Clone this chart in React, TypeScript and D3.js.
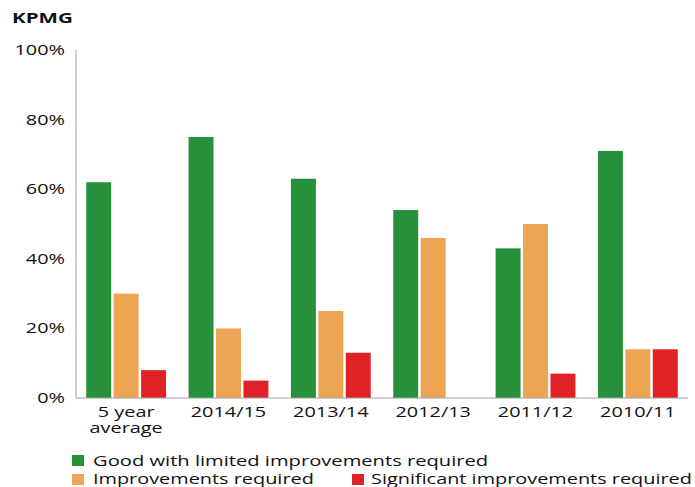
import React from "react";
import * as d3 from "d3";

const categories = ["5 year\naverage", "2014/15", "2013/14", "2012/13", "2011/12", "2010/11"];
const seriesNames = [
  "Good with limited improvements required",
  "Improvements required",
  "Significant improvements required",
];
const good = [62, 75, 63, 54, 43, 71];
const improvements = [30, 20, 25, 46, 50, 14];
const significant = [8, 5, 13, 0, 7, 14];
const yTicks = [0, 20, 40, 60, 80, 100];
const colors = ["#27903b", "#eca653", "#e02227"];

const W = 695;
const H = 487;
const SX = 1.42;
const FONT = "'Open Sans', sans-serif";

function T({ x, y, children, anchor = "start", size = 14, weight = 400, dy = 0 }: any) {
  return (
    <text
      transform={`translate(${x},${y}) scale(${SX},1)`}
      textAnchor={anchor}
      fontSize={size}
      fontWeight={weight}
      fontFamily={FONT}
      fill="#111"
      dy={dy}
    >
      {children}
    </text>
  );
}

export default function App() {
  const x0 = d3.scaleBand<string>().domain(categories).range([76, 688]).paddingInner(0.22).paddingOuter(0.1);
  const x1 = d3.scaleBand<number>().domain([0, 1, 2]).range([0, x0.bandwidth()]).paddingInner(0.09);
  const y = d3.scaleLinear().domain([0, 100]).range([398, 50]);
  const series = [good, improvements, significant];

  return (
    <svg width={W} height={H} style={{ position: "absolute", left: 0, top: 0, background: "#fff" }}>
      <rect width={W} height={H} fill="#fff" />
      <T x={12} y={23} size={14.5} weight={700}>KPMG</T>
      {yTicks.map((t) => (
        <T key={t} x={65} y={y(t)} anchor="end" size={14} dy="0.36em">{`${t}%`}</T>
      ))}
      {categories.map((c, i) =>
        series.map((s, j) =>
          s[i] > 0 ? (
            <rect
              key={`${i}-${j}`}
              x={(x0(c) as number) + (x1(j) as number)}
              y={y(s[i])}
              width={x1.bandwidth()}
              height={y(0) - y(s[i])}
              fill={colors[j]}
            />
          ) : null
        )
      )}
      <line x1={76} x2={76} y1={y(100)} y2={y(0)} stroke="#a0a0a0" strokeWidth={1} />
      <line x1={76} x2={688} y1={y(0)} y2={y(0)} stroke="#a0a0a0" strokeWidth={1} />
      {categories.map((c) => {
        const cx = (x0(c) as number) + x0.bandwidth() / 2;
        return c.split("\n").map((line, k) => (
          <T key={c + k} x={cx} y={417 + k * 15.5} anchor="middle" size={14}>{line}</T>
        ));
      })}
      <rect x={72} y={455} width={12} height={11} fill={colors[0]} />
      <T x={93} y={466} size={14.2}>{seriesNames[0]}</T>
      <rect x={72} y={474} width={12} height={11} fill={colors[1]} />
      <T x={93} y={484} size={14}>{seriesNames[1]}</T>
      <rect x={352} y={474} width={12} height={11} fill={colors[2]} />
      <T x={371} y={484} size={14}>{seriesNames[2]}</T>
    </svg>
  );
}
